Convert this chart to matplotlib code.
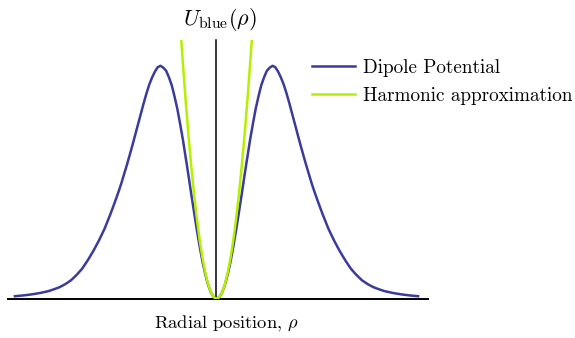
import numpy as np
import matplotlib
matplotlib.use("Agg")
import matplotlib.pyplot as plt

plt.rcParams['font.family'] = 'cmr10'
plt.rcParams['mathtext.fontset'] = 'cm'
plt.rcParams['axes.unicode_minus'] = False

# radial position (units of the ring radius) and normalised potential, one side
rho = [0.0, 0.05, 0.1, 0.15, 0.2, 0.25, 0.3, 0.35, 0.4, 0.45, 0.5, 0.55, 0.6,
       0.65, 0.7, 0.75, 0.8, 0.85, 0.9, 0.95, 1.0, 1.05, 1.1, 1.15, 1.2, 1.25,
       1.3, 1.35, 1.4, 1.45, 1.5, 1.55, 1.6, 1.65, 1.7, 1.75, 1.8, 1.85, 1.9,
       1.95, 2.0, 2.1, 2.2, 2.3, 2.4, 2.5, 2.6, 2.7, 2.8, 2.9, 3.0, 3.15, 3.3,
       3.45, 3.6]
u_dipole = [0.0, 0.007, 0.027, 0.060, 0.105, 0.159, 0.224, 0.294, 0.371, 0.448,
            0.529, 0.606, 0.683, 0.751, 0.816, 0.869, 0.917, 0.951, 0.979, 0.992,
            1.0, 0.994, 0.975, 0.95, 0.92, 0.882, 0.84, 0.795, 0.75, 0.705,
            0.66, 0.617, 0.575, 0.535, 0.495, 0.459, 0.425, 0.392, 0.36, 0.33,
            0.30, 0.25, 0.205, 0.165, 0.129, 0.102, 0.079, 0.063, 0.050, 0.041,
            0.033, 0.025, 0.019, 0.0145, 0.011]

# harmonic approximation near the trap centre
rho_harm = [0.0, 0.05, 0.1, 0.15, 0.2, 0.25, 0.3, 0.35, 0.4, 0.45, 0.5, 0.55,
            0.6, 0.63]
u_harm = [0.0, 0.007, 0.028, 0.063, 0.112, 0.175, 0.252, 0.343, 0.448, 0.567,
          0.70, 0.847, 1.008, 1.111]

blue = '#3b3b9c'
green = '#b4f000'

def mirror(x, y):
    x = np.asarray(x)
    y = np.asarray(y)
    return np.concatenate([-x[::-1], x[1:]]), np.concatenate([y[::-1], y[1:]])

W, H = 575, 338
fig = plt.figure(figsize=(W / 100, H / 100), dpi=100)
# axes box in pixels: x 8..428, y 40..298.8 (from top)
ax = fig.add_axes([8 / W, (H - 298.8) / H, 420 / W, (298.8 - 40) / H])
px_per_rho = 56.0
ax.set_xlim(-208.5 / px_per_rho, 211.5 / px_per_rho)
ax.set_ylim(0, (298.8 - 40) / 233.0)

xd, yd = mirror(rho, u_dipole)
xh, yh = mirror(rho_harm, u_harm)
ax.plot(xd, yd, color=blue, lw=1.8, label='Dipole Potential', zorder=3,
        solid_joinstyle='round')
ax.plot(xh, yh, color=green, lw=1.8, label='Harmonic approximation', zorder=4,
        solid_joinstyle='round')

ax.axhline(0, color='black', lw=1.4, clip_on=False, zorder=2)
ax.axvline(0, color='black', lw=1.1, clip_on=False, zorder=2)

for s in ax.spines.values():
    s.set_visible(False)
ax.set_xticks([])
ax.set_yticks([])
ax.patch.set_alpha(0)

fig.text(220 / W, (H - 25) / H, r'$U_{\rm blue}(\rho)$', ha='center',
         va='baseline', fontsize=16)
fig.text(226 / W, (H - 328) / H, r'Radial position, $\rho$', ha='center',
         va='baseline', fontsize=13.3)

ax.legend(loc='upper left', bbox_to_anchor=(312 / W, (H - 59) / H),
          bbox_transform=fig.transFigure, frameon=False, fontsize=13.8,
          borderpad=0, borderaxespad=0, handlelength=2.24,
          handletextpad=0.42, labelspacing=0.53)

fig.savefig('out.png', dpi=100)
